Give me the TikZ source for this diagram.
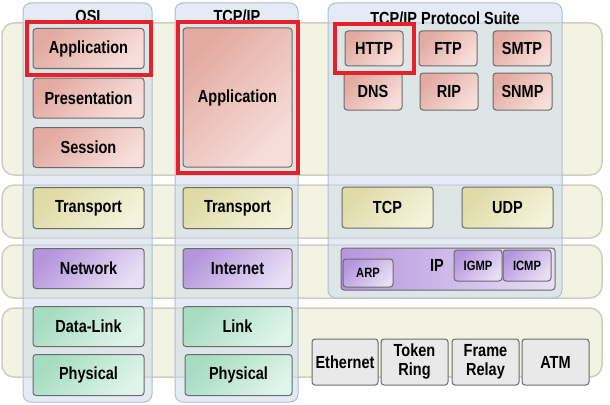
\documentclass[tikz,border=0pt]{standalone}
\usepackage{fontspec}
\setmainfont{Liberation Sans}[FakeStretch=0.83]
\usetikzlibrary{fit}
\definecolor{bandfill}{HTML}{F3F3E4}
\definecolor{bandline}{HTML}{CFCFC0}
\definecolor{colfill}{HTML}{CDDBEB}
\definecolor{colline}{HTML}{AFBED2}
\definecolor{boxline}{HTML}{6B6B6B}
\definecolor{appdark}{HTML}{E2AAA1}
\definecolor{applight}{HTML}{F7DEDA}
\definecolor{trdark}{HTML}{DEDBA6}
\definecolor{trlight}{HTML}{F4F3DB}
\definecolor{netdark}{HTML}{B596DD}
\definecolor{netlight}{HTML}{E8DEF5}
\definecolor{linkdark}{HTML}{A6DCC1}
\definecolor{linklight}{HTML}{DFF4EA}
\definecolor{hwfill}{HTML}{E9E9E9}
\definecolor{hilite}{HTML}{E8202A}
\begin{document}
\begin{tikzpicture}[x=1pt, y=-1pt, font=\bfseries\fontsize{17.5}{19}\selectfont,
  band/.style={fill=bandfill, draw=bandline, line width=1.5pt, rounded corners=12pt},
  column/.style={fill=colfill, fill opacity=0.55, draw=colline, line width=1pt, rounded corners=8pt},
  layer/.style={draw=boxline, line width=1pt, rounded corners=3pt, align=center, inner sep=0pt},
  app/.style={layer, top color=appdark, bottom color=applight, shading angle=45},
  trans/.style={layer, top color=trdark, bottom color=trlight, shading angle=45},
  net/.style={layer, top color=netdark, bottom color=netlight, shading angle=45},
  link/.style={layer, top color=linkdark, bottom color=linklight, shading angle=45},
  hw/.style={layer, fill=hwfill},
  small/.style={font=\bfseries\fontsize{13.5}{15}\selectfont},
  redbox/.style={draw=hilite, line width=4pt, inner sep=#1},
  redbox/.default=6pt]
\useasboundingbox (0,0) rectangle (610,404);

% layer bands
\draw[band] (2,23) rectangle (602,175);
\draw[band] (2,185) rectangle (602,238);
\draw[band] (2,245) rectangle (602,298);
\draw[band] (2,308) rectangle (602,377);

% model columns
\draw[column] (23,3) rectangle (152,402);
\draw[column] (175,3) rectangle (298,402);
\draw[column] (328,3) rectangle (562,298);
\node (osititle) at (88,16) {OSI};
\node (tcptitle) at (237,16) {TCP/IP};
\node (suitetitle) at (445,18) {TCP/IP Protocol Suite};

% OSI
\node[app, minimum width=111pt, minimum height=40pt] (osiapp) at (88.5,48.5) {Application};
\node[app, minimum width=111pt, minimum height=40pt] (osipres) at (88.5,98) {Presentation};
\node[app, minimum width=111pt, minimum height=40pt] (osisess) at (88.5,147.5) {Session};
\node[trans, minimum width=111pt, minimum height=41pt] (ositrans) at (88.5,208) {Transport};
\node[net, minimum width=111pt, minimum height=40pt] (osinet) at (88.5,268.5) {Network};
\node[link, minimum width=111pt, minimum height=40pt] (osidl) at (88.5,326.5) {Data-Link};
\node[link, minimum width=111pt, minimum height=41pt] (osiphy) at (88.5,375) {Physical};

% TCP/IP
\node[app, minimum width=109pt, minimum height=139pt] (tcpapp) at (237.5,97.5) {Application};
\node[trans, minimum width=109pt, minimum height=41pt] (tcptrans) at (237.5,208) {Transport};
\node[net, minimum width=109pt, minimum height=40pt] (tcpinet) at (237.5,268.5) {Internet};
\node[link, minimum width=109pt, minimum height=40pt] (tcplink) at (237.5,326.5) {Link};
\node[link, minimum width=107pt, minimum height=41pt] (tcpphy) at (238.5,375) {Physical};

% protocol suite
\node[app, minimum width=58pt, minimum height=35pt] (http) at (374,48.5) {HTTP};
\node[app, minimum width=58pt, minimum height=35pt] (ftp) at (448,48.5) {FTP};
\node[app, minimum width=58pt, minimum height=35pt] (smtp) at (522,48.5) {SMTP};
\node[app, minimum width=58pt, minimum height=37pt] (dns) at (373,91.5) {DNS};
\node[app, minimum width=58pt, minimum height=37pt] (rip) at (449,91.5) {RIP};
\node[app, minimum width=59pt, minimum height=37pt] (snmp) at (522.5,91.5) {SNMP};
\node[trans, minimum width=91pt, minimum height=41pt] (tcp) at (387.5,207.5) {TCP};
\node[trans, minimum width=91pt, minimum height=41pt] (udp) at (507.5,207.5) {UDP};
\node[net, left color=netdark, right color=netlight, minimum width=214pt, minimum height=42pt] (ip) at (448,269) {};
\node (iplabel) at (437,265) {IP};
\node[net, small, minimum width=50pt, minimum height=28pt] (arp) at (368,273) {ARP};
\node[net, small, minimum width=48pt, minimum height=31pt] (igmp) at (478,265.5) {IGMP};
\node[net, small, minimum width=48pt, minimum height=31pt] (icmp) at (527,265.5) {ICMP};
\node[hw, minimum width=66pt, minimum height=46pt] (eth) at (345,362) {Ethernet};
\node[hw, minimum width=67pt, minimum height=46pt] (token) at (414.5,362) {Token\\Ring};
\node[hw, minimum width=67pt, minimum height=46pt] (frame) at (485.5,362) {Frame\\Relay};
\node[hw, minimum width=67pt, minimum height=46pt] (atm) at (555.5,362) {ATM};

% highlights
\node[redbox, fit=(osiapp)] (osired) {};
\node[redbox=5pt, fit=(tcpapp)] (tcpred) {};
\node[redbox, inner xsep=10pt, fit=(http)] (httpred) {};
\end{tikzpicture}
\end{document}
